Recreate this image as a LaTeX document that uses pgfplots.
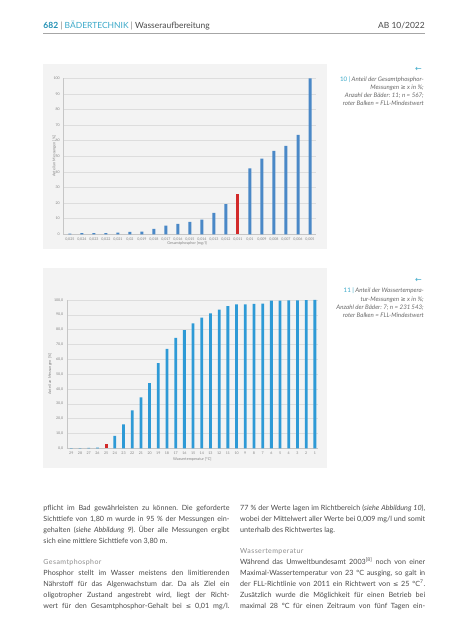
\documentclass[border=0pt]{standalone}
\usepackage{pgfplots}
\pgfplotsset{compat=1.18}
\usepackage{fontspec}
\setmainfont{Lato}
\newfontfamily\sym{DejaVu Sans}
\frenchspacing
\definecolor{tealA}{HTML}{1F8FB3}
\definecolor{tealB}{HTML}{3AA9C9}
\definecolor{txt}{HTML}{4A4A4A}
\definecolor{capc}{HTML}{6A6A6A}
\definecolor{headc}{HTML}{8C8C8C}
\definecolor{panel}{HTML}{F3F3F3}
\definecolor{barA}{HTML}{4A88C7}
\definecolor{barB}{HTML}{2E9AD6}
\definecolor{barR}{HTML}{D22A2A}
\definecolor{gridc}{HTML}{DDDDDD}
\newcommand\bodyfont{\fontsize{7.2}{8}\selectfont\color{txt}}
\newcommand\jl[1]{\makebox[186bp][s]{#1}}
\newcommand\jr[1]{\makebox[185bp][s]{#1}}
\newcommand\capfont{\fontsize{6.2}{8}\selectfont\itshape\color{capc}}
\pgfplotsset{
  mystyle/.style={
    scale only axis, ymin=0, ymax=100, ytick={0,10,...,100},
    ymajorgrids, grid style={draw=gridc, line width=0.4bp},
    axis lines*=left, axis line style={draw=gray!45, line width=0.4bp},
    major tick length=0pt,
    tick label style={font=\fontsize{3.6}{4}\selectfont, text=gray},
    label style={font=\fontsize{3.8}{4}\selectfont, text=gray},
    /pgf/number format/assume math mode=true,
    xtick={0,...,30},
  }
}
\begin{document}
\begin{tikzpicture}[x=1bp,y=1bp]
\path[use as bounding box] (0,0) rectangle (453,640);
\fill[white] (0,0) rectangle (453,640);
% header
\node[anchor=base west, inner sep=0] at (43.3,640-28.6) {\fontsize{8.5}{10}\selectfont\textcolor{tealA}{\bfseries 682}\ \textcolor{gray}{|}\ \textcolor{tealB}{BÄDERTECHNIK}\ \textcolor{gray}{|}\ \textcolor{txt}{Wasseraufbereitung}};
\node[anchor=base east, inner sep=0] at (425,640-28.6) {\fontsize{8.5}{10}\selectfont\color{txt}AB 10/2022};
\draw[gray!70, line width=0.8bp] (43.3,640-33.3) -- (425,640-33.3);
% panels
\fill[panel] (43,640-64) rectangle (327,640-249);
\fill[panel] (43,640-268) rectangle (327,640-468);
% chart 1
\begin{axis}[mystyle, at={(63.3bp,405.7bp)}, anchor=south west,
  width=252.7bp, height=156bp, xmin=-0.55, xmax=20.5,
  xticklabels={{0,025},{0,024},{0,023},{0,022},{0,021},{0,02},{0,019},{0,018},{0,017},{0,016},{0,015},{0,014},{0,013},{0,012},{0,011},{0,01},{0,009},{0,008},{0,007},{0,006},{0,005}},
  ylabel={Anteil an Messungen [\%]},
  ylabel style={at={(axis description cs:-0.036,0.5)}, anchor=center},
  xlabel={Gesamtphosphor [mg/l]},
  xlabel style={at={(axis description cs:0.49,-0.06)}, anchor=center},
]
\addplot[ybar, bar shift=0pt, bar width=3bp, fill=barA, draw=none] coordinates {
(0,0.5) (1,0.7) (2,0.7) (3,0.8) (4,1.0) (5,1.5) (6,1.7) (7,3.4) (8,5.5) (9,6.6)
(10,7.9) (11,9.4) (12,13.7) (13,19.4) (15,42.3) (16,48.5) (17,53.4) (18,56.6) (19,63.8) (20,100)};
\addplot[ybar, bar shift=0pt, bar width=3bp, fill=barR, draw=none] coordinates {(14,26)};
\end{axis}
% chart 2
\begin{axis}[mystyle, at={(66.7bp,191.7bp)}, anchor=south west,
  width=251.3bp, height=148.3bp, xmin=-0.53, xmax=28.36,
  yticklabel style={/pgf/number format/.cd, fixed, fixed zerofill, precision=1, use comma},
  xticklabels={29,28,27,26,25,24,23,22,21,20,19,18,17,16,15,14,13,12,11,10,9,8,7,6,5,4,3,2,1},
  ylabel={Anteil an Messungen [\%]},
  ylabel style={at={(axis description cs:-0.066,0.5)}, anchor=center},
  xlabel={Wassertemperatur [°C]},
  xlabel style={at={(axis description cs:0.5,-0.072)}, anchor=center},
]
\addplot[ybar, bar shift=0pt, bar width=2.8bp, fill=barB, draw=none] coordinates {
(0,0.1) (1,0.1) (2,0.2) (3,0.5) (5,8.3) (6,16.2) (7,25.6) (8,34.4) (9,44.0)
(10,57.5) (11,67.0) (12,74.4) (13,79.6) (14,84.3) (15,88.1) (16,91.0) (17,93.5) (18,95.8) (19,97.1)
(20,97.1) (21,97.3) (22,97.6) (23,99.5) (24,99.6) (25,99.7) (26,99.8) (27,99.9) (28,100)};
\addplot[ybar, bar shift=0pt, bar width=2.8bp, fill=barR, draw=none] coordinates {(4,2.9)};
\end{axis}
% captions
\node[anchor=base east, inner sep=0] at (422,640-71.5) {\fontsize{8}{8}\selectfont\sym\color{tealB}←};
\node[anchor=base east, inner sep=0] at (424,640-82) {\capfont\textcolor{tealB}{\upshape 10}\ \textcolor{tealB}{|}\ Anteil der Gesamtphosphor-};
\node[anchor=base east, inner sep=0] at (424,640-90) {\capfont Messungen {\sym\upshape ≥} x in \%;};
\node[anchor=base east, inner sep=0] at (424,640-98) {\capfont Anzahl der Bäder: 11; n = 567;};
\node[anchor=base east, inner sep=0] at (424,640-106) {\capfont roter Balken = FLL-Mindestwert};
\node[anchor=base east, inner sep=0] at (422,640-282.5) {\fontsize{8}{8}\selectfont\sym\color{tealB}←};
\node[anchor=base east, inner sep=0] at (424,640-293) {\capfont\textcolor{tealB}{\upshape 11}\ \textcolor{tealB}{|}\ Anteil der Wassertempera-};
\node[anchor=base east, inner sep=0] at (424,640-301.3) {\capfont tur-Messungen {\sym\upshape ≥} x in \%;};
\node[anchor=base east, inner sep=0] at (424,640-309.6) {\capfont Anzahl der Bäder: 7; n = 231\,543;};
\node[anchor=base east, inner sep=0] at (424,640-317.9) {\capfont roter Balken = FLL-Mindestwert};
% left column
\node[anchor=base west, inner sep=0] at (43.3,640-510.6) {\bodyfont\jl{pflicht im Bad gewährleisten zu können. Die geforderte}};
\node[anchor=base west, inner sep=0] at (43.3,640-521.5) {\bodyfont\jl{Sichttiefe von 1,80 m wurde in 95 \% der Messungen ein-}};
\node[anchor=base west, inner sep=0] at (43.3,640-532.3) {\bodyfont\jl{gehalten (\textit{siehe Abbildung 9}). Über alle Messungen ergibt}};
\node[anchor=base west, inner sep=0] at (43.3,640-543.2) {\bodyfont sich eine mittlere Sichttiefe von 3,80 m.};
\node[anchor=base west, inner sep=0] at (43.3,640-564.9) {\fontsize{7}{8}\selectfont\addfontfeatures{LetterSpace=6}\color{headc}Gesamtphosphor};
\node[anchor=base west, inner sep=0] at (43.3,640-575.7) {\bodyfont\jl{Phosphor stellt im Wasser meistens den limitierenden}};
\node[anchor=base west, inner sep=0] at (43.3,640-586.6) {\bodyfont\jl{Nährstoff für das Algenwachstum dar. Da als Ziel ein}};
\node[anchor=base west, inner sep=0] at (43.3,640-597.4) {\bodyfont\jl{oligotropher Zustand angestrebt wird, liegt der Richt-}};
\node[anchor=base west, inner sep=0] at (43.3,640-608.3) {\bodyfont\jl{wert für den Gesamtphosphor-Gehalt bei {\sym\fontsize{6.4}{8}\selectfont ≤} 0,01 mg/l.}};
% right column
\node[anchor=base west, inner sep=0] at (240,640-510.6) {\bodyfont\jr{77 \% der Werte lagen im Richtbereich (\textit{siehe Abbildung 10}),}};
\node[anchor=base west, inner sep=0] at (240,640-521.5) {\bodyfont\jr{wobei der Mittelwert aller Werte bei 0,009 mg/l und somit}};
\node[anchor=base west, inner sep=0] at (240,640-532.3) {\bodyfont unterhalb des Richtwertes lag.};
\node[anchor=base west, inner sep=0] at (240,640-554.0) {\fontsize{7}{8}\selectfont\addfontfeatures{LetterSpace=6}\color{headc}Wassertemperatur};
\node[anchor=base west, inner sep=0] at (240,640-564.9) {\bodyfont\jr{Während das Umweltbundesamt 2003\textsuperscript{[8]} noch von einer}};
\node[anchor=base west, inner sep=0] at (240,640-575.7) {\bodyfont\jr{Maximal-Wassertemperatur von 23 °C ausging, so galt in}};
\node[anchor=base west, inner sep=0] at (240,640-586.6) {\bodyfont\jr{der FLL-Richtlinie von 2011 ein Richtwert von {\sym\fontsize{6.4}{8}\selectfont ≤} 25 °C\textsuperscript{7}.}};
\node[anchor=base west, inner sep=0] at (240,640-597.4) {\bodyfont\jr{Zusätzlich wurde die Möglichkeit für einen Betrieb bei}};
\node[anchor=base west, inner sep=0] at (240,640-608.3) {\bodyfont\jr{maximal 28 °C für einen Zeitraum von fünf Tagen ein-}};
\end{tikzpicture}
\end{document}
